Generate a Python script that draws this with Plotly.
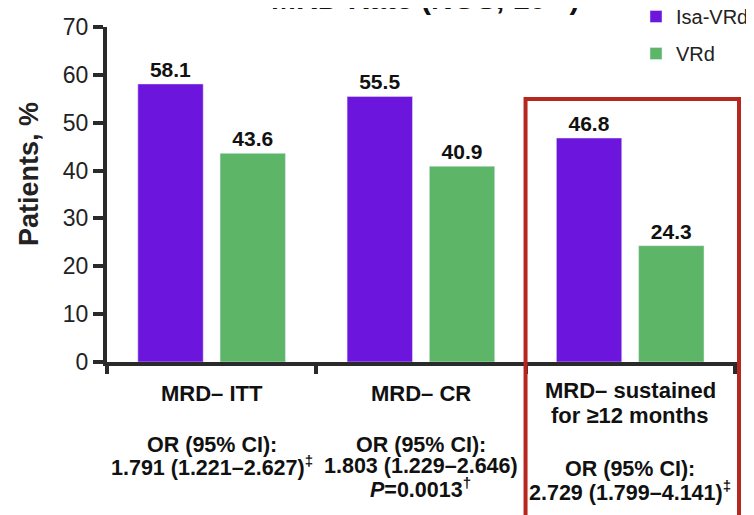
import plotly.graph_objects as go

# values
categories = ["MRD– ITT", "MRD– CR", "MRD– sustained for ≥12 months"]
isa_vrd = [58.1, 55.5, 46.8]
vrd = [43.6, 40.9, 24.3]

category_lines = [
    ["MRD– ITT"],
    ["MRD– CR"],
    ["MRD– sustained", "for ≥12 months"],
]
or_lines = [
    ["OR (95% CI):", "1.791 (1.221–2.627)<sup>‡</sup>"],
    ["OR (95% CI):", "1.803 (1.229–2.646)", "<i>P</i>=0.0013<sup>†</sup>"],
    ["OR (95% CI):", "2.729 (1.799–4.141)<sup>‡</sup>"],
]

FONT = "Liberation Sans, Arial, sans-serif"
PURPLE = "#6c15dc"
GREEN = "#5db567"
RED = "#b5271f"
AXIS = "#2a2a2a"

# the page body adds an 8px margin, so the figure is 8px smaller than the window
OFF = 8
W, H = 754 - OFF, 515 - OFF
# plot area in window pixels: x 107..741, y 27..362
L, T = 107 - OFF, 27 - OFF
R = W - (741 - OFF)
B = H - (362 - OFF)
PLOT_W = W - L - R
PLOT_H = H - T - B


def py(y_px):
    # window pixel row -> paper y
    return (362 - y_px) / PLOT_H


def px(x_px):
    # window pixel column -> paper x
    return (x_px - 107) / PLOT_W


fig = go.Figure()
fig.add_trace(go.Bar(
    x=categories, y=isa_vrd, name="Isa-VRd", legendgroup="a",
    marker_color=PURPLE, texttemplate="<b>%{y:.1f}</b>", textposition="outside",
    textfont=dict(size=21, color="#111"), cliponaxis=False,
))
fig.add_trace(go.Bar(
    x=categories, y=vrd, name="VRd", legendgroup="b",
    marker_color=GREEN, texttemplate="<b>%{y:.1f}</b>", textposition="outside",
    textfont=dict(size=21, color="#111"), cliponaxis=False,
))

# category labels and odds ratios under the axis
cat_rows = [[393.5], [393.5], [390.5, 415.7]]
or_rows = [[445, 466], [445, 466, 488], [469, 491]]
for cat, lines, rows in zip(categories, category_lines, cat_rows):
    for text, row in zip(lines, rows):
        fig.add_annotation(x=cat, xref="x", xanchor="center", y=py(row), yref="paper",
                           yanchor="middle", text="<b>%s</b>" % text, showarrow=False,
                           font=dict(size=22, color="#111"))
for cat, lines, rows in zip(categories, or_lines, or_rows):
    for text, row in zip(lines, rows):
        fig.add_annotation(x=cat, xref="x", xanchor="center", y=py(row), yref="paper",
                           yanchor="middle", text="<b>%s</b>" % text, showarrow=False,
                           font=dict(size=21.5, color="#111"))

# y axis title, sits a bit above the axis middle
fig.add_annotation(x=px(29), xref="paper", xanchor="center", y=py(174), yref="paper",
                   yanchor="middle", text="<b>Patients, %</b>", textangle=-90,
                   showarrow=False, font=dict(size=27, color="#222"))

# chart title, cut off by the top edge of the picture
fig.add_annotation(x=px(425), xref="paper", xanchor="center", y=py(17), yref="paper",
                   yanchor="bottom", text="<b>MRD Rate (NGS, 10<sup>–5</sup>)</b>",
                   showarrow=False, font=dict(size=30, color="#111"))

# red highlight box around the sustained group
fig.add_shape(type="rect", xref="x", yref="paper", x0=1.50, x1=2.52,
              y0=-0.6, y1=py(99), line=dict(color=RED, width=4), layer="above")

fig.update_layout(
    width=W, height=H,
    margin=dict(l=L, r=R, t=T, b=B, autoexpand=False),
    plot_bgcolor="white", paper_bgcolor="white",
    font=dict(family=FONT, color="#111"),
    barmode="group", bargap=0.214, bargroupgap=0.205,
    legend=dict(x=px(636), y=py(-3), xanchor="left", yanchor="top",
                font=dict(size=20, color="#222"), tracegroupgap=8,
                traceorder="grouped", bgcolor="rgba(0,0,0,0)"),
    showlegend=True,
)
fig.update_xaxes(type="category", showticklabels=False, tickson="boundaries",
                 ticks="outside", ticklen=8, tickwidth=4, tickcolor=AXIS,
                 showline=True, linewidth=4, linecolor=AXIS, showgrid=False)
fig.update_yaxes(range=[0, 70], dtick=10, ticks="outside", ticklen=10, tickwidth=4,
                 tickcolor=AXIS, showline=True, linewidth=4, linecolor=AXIS,
                 showgrid=False, zeroline=False,
                 tickfont=dict(size=23, color="#222"))

fig.write_html("out.html")
